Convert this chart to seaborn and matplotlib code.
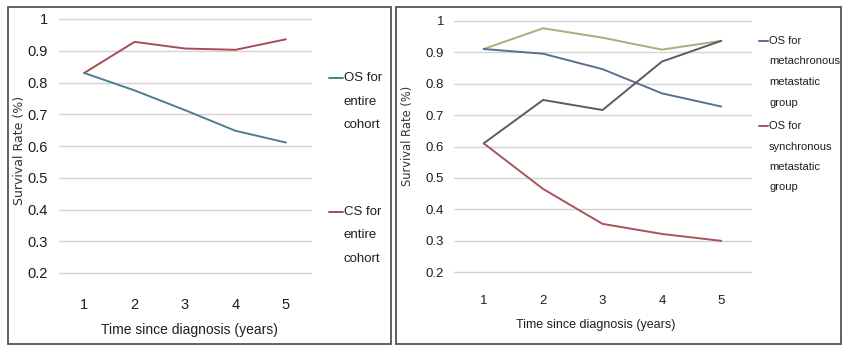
import matplotlib
matplotlib.use("Agg")
import matplotlib.pyplot as plt
import seaborn as sns
import pandas as pd
from matplotlib.lines import Line2D
from matplotlib.patches import Rectangle

# ---------------- data ----------------
years = [1, 2, 3, 4, 5]
os_entire = [0.83, 0.775, 0.713, 0.648, 0.611]
cs_entire = [0.83, 0.928, 0.907, 0.903, 0.936]

cs_meta = [0.910, 0.976, 0.946, 0.908, 0.936]
os_meta = [0.910, 0.895, 0.846, 0.769, 0.727]
cs_sync = [0.610, 0.748, 0.716, 0.870, 0.936]
os_sync = [0.610, 0.465, 0.354, 0.322, 0.300]

yticks = [0.2, 0.3, 0.4, 0.5, 0.6, 0.7, 0.8, 0.9, 1.0]
ytick_labels = ["0.2", "0.3", "0.4", "0.5", "0.6", "0.7", "0.8", "0.9", "1"]

left_series = {"OS for entire cohort": os_entire, "CS for entire cohort": cs_entire}
right_series = {"CS metachronous": cs_meta, "OS metachronous": os_meta,
                "CS synchronous": cs_sync, "OS synchronous": os_sync}

left_colors = {"OS for entire cohort": "#4a7f90", "CS for entire cohort": "#a44d55"}
right_colors = {"CS metachronous": "#a9ae7c", "OS metachronous": "#5b6f92",
                "CS synchronous": "#5e5868", "OS synchronous": "#a9535b"}


def long_df(series):
    rows = []
    for name, vals in series.items():
        for x, v in zip(years, vals):
            rows.append({"year": x, "rate": v, "series": name})
    return pd.DataFrame(rows)


sns.set_theme(style="white")
plt.rcParams["font.family"] = ["Liberation Sans", "DejaVu Sans"]

W, H = 851, 355
fig = plt.figure(figsize=(W / 100, H / 100), dpi=100)


def fx(px):
    return px / W


def fy(py):
    return 1 - py / H


# outer frames
for x0, x1 in [(8, 391), (396, 841)]:
    fig.patches.append(Rectangle((fx(x0), fy(344)), fx(x1) - fx(x0), fy(7) - fy(344),
                                 transform=fig.transFigure, fill=False,
                                 edgecolor="#555555", lw=1.3))

axL = fig.add_axes([fx(59), fy(273), fx(311) - fx(59), fy(19) - fy(273)])
axR = fig.add_axes([fx(454), fy(272.3), fx(751) - fx(454), fy(20.7) - fy(272.3)])

sns.lineplot(data=long_df(left_series), x="year", y="rate", hue="series",
             palette=left_colors, ax=axL, lw=1.4, legend=False)
sns.lineplot(data=long_df(right_series), x="year", y="rate", hue="series",
             palette=right_colors, ax=axR, lw=1.4, legend=False)

for ax, tsize, ypad, xpad in [(axL, 10.5, 8, 18), (axR, 9.5, 7, 16)]:
    ax.set_xlim(0.5, 5.5)
    ax.set_ylim(0.2, 1.0)
    ax.set_yticks(yticks)
    ax.set_yticklabels(ytick_labels)
    ax.set_xticks(years)
    ax.set_xticklabels([str(y) for y in years])
    ax.grid(axis="y", color="#d4d4d4", lw=1.0)
    for gl in ax.get_ygridlines():
        gl.set_clip_on(False)
    ax.set_axisbelow(True)
    for s in ["top", "right", "left", "bottom"]:
        ax.spines[s].set_visible(False)
    ax.tick_params(axis="y", length=0, pad=ypad, labelsize=tsize, colors="#1e1e1e")
    ax.tick_params(axis="x", length=0, pad=xpad, labelsize=tsize, colors="#1e1e1e")
    ax.set_facecolor("white")

# axis labels
axL.set_xlabel("Time since diagnosis (years)", fontsize=10, color="#1e1e1e")
axL.xaxis.set_label_coords((189.5 - 59) / 252, (273 - 330) / 254)
axL.xaxis.label.set_va("center")
axL.set_ylabel("Survival Rate (%)", fontsize=9, color="#333333", family="DejaVu Sans")
axL.yaxis.set_label_coords((19.5 - 59) / 252, (273 - 150) / 254)
axL.yaxis.label.set_va("center")

axR.set_xlabel("Time since diagnosis (years)", fontsize=9, color="#1e1e1e")
axR.xaxis.set_label_coords((595.5 - 454) / 297, (272.3 - 325) / 251.6)
axR.xaxis.label.set_va("center")
axR.set_ylabel("Survival Rate (%)", fontsize=8.3, color="#333333", family="DejaVu Sans")
axR.yaxis.set_label_coords((407.5 - 454) / 297, (272.3 - 136) / 251.6)
axR.yaxis.label.set_va("center")


# legends (manual, first line aligned with handle)
def legend_entry(x_line0, x_line1, y_first, lines, spacing, color, size):
    fig.lines.append(Line2D([fx(x_line0), fx(x_line1)], [fy(y_first), fy(y_first)],
                            transform=fig.transFigure, color=color, lw=1.4))
    for i, t in enumerate(lines):
        fig.text(fx(x_line1 + 1), fy(y_first + i * spacing), t, fontsize=size,
                 va="center", ha="left", color="#1e1e1e")


legend_entry(329, 343, 78, ["OS for", "entire", "cohort"], 23.5,
             left_colors["OS for entire cohort"], 9.5)
legend_entry(329, 343, 212, ["CS for", "entire", "cohort"], 23.5,
             left_colors["CS for entire cohort"], 9.5)
legend_entry(759, 768, 41, ["OS for", "metachronous", "metastatic", "group"], 20.5,
             right_colors["OS metachronous"], 8)
legend_entry(759, 768, 126, ["OS for", "synchronous", "metastatic", "group"], 20.5,
             right_colors["OS synchronous"], 8)

fig.savefig("out.png", dpi=100, facecolor="white")
